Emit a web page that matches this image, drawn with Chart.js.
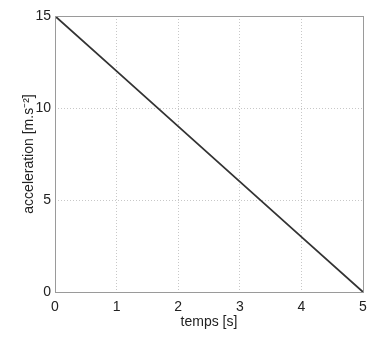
<!DOCTYPE html>
<html>
<head>
<meta charset="utf-8">
<script src="https://cdn.jsdelivr.net/npm/chart.js@4.4.1/dist/chart.umd.min.js"></script>
<style>
  html, body { margin: 0; padding: 0; background: #fff; }
  #wrap { width: 380px; height: 342px; }
</style>
</head>
<body>
<div id="wrap"><canvas id="accChart" width="380" height="342"></canvas></div>
<script>
// acceleration vs time, sampled each second
const times = [0, 1, 2, 3, 4, 5];
const acceleration = [15, 12, 9, 6, 3, 0];
const yTicks = [0, 5, 10, 15];

const labelFont = { family: "'Liberation Sans', Arial, sans-serif", size: 14 };

// solid frame around the plot area
const frame = {
   id: "frame",
   afterDraw(chart)
   {
      const a = chart.chartArea;
      const ctx = chart.ctx;
      ctx.save();
      ctx.strokeStyle = "#9a9a9a";
      ctx.lineWidth = 1;
      ctx.strokeRect(a.left + 0.5, a.top + 0.5, a.right - a.left, a.bottom - a.top);
      ctx.restore();
   }
};

const ctx = document.getElementById("accChart").getContext("2d");
new Chart(ctx,
{
   type: "line",
   data:
   {
      datasets: [
      {
         data: times.map((t, i) => ({ x: t, y: acceleration[i] })),
         borderColor: "#333",
         borderWidth: 1.8,
         pointRadius: 0,
         tension: 0,
      }],
   },
   options:
   {
      responsive: false,
      animation: false,
      layout: { padding: { top: 16, right: 17, left: 0, bottom: 0 } },
      plugins: { legend: { display: false }, tooltip: { enabled: false } },
      scales:
      {
         x:
         {
            type: "linear",
            min: 0,
            max: 5,
            afterFit(scale) { scale.height = 50; },
            afterBuildTicks(scale) { scale.ticks = times.map(v => ({ value: v })); },
            grid: { color: "#c8c8c8", drawTicks: false },
            border: { display: false, dash: [1, 2] },
            ticks: { color: "#222", font: labelFont, padding: 7, maxRotation: 0 },
            title: { display: true, text: "temps [s]", color: "#222", font: labelFont, padding: { top: 0, bottom: 11 } },
         },
         y:
         {
            min: 0,
            max: 15,
            afterFit(scale) { scale.width = 55; },
            afterBuildTicks(scale) { scale.ticks = yTicks.map(v => ({ value: v })); },
            grid: { color: "#c8c8c8", drawTicks: false },
            border: { display: false, dash: [1, 2] },
            ticks: { color: "#222", font: labelFont, padding: 4 },
            title: { display: true, text: "acceleration [m.s\u207B\u00B2]", color: "#222", font: labelFont, padding: { top: 21, bottom: 0 } },
         },
      },
   },
   plugins: [frame],
});
</script>
</body>
</html>
